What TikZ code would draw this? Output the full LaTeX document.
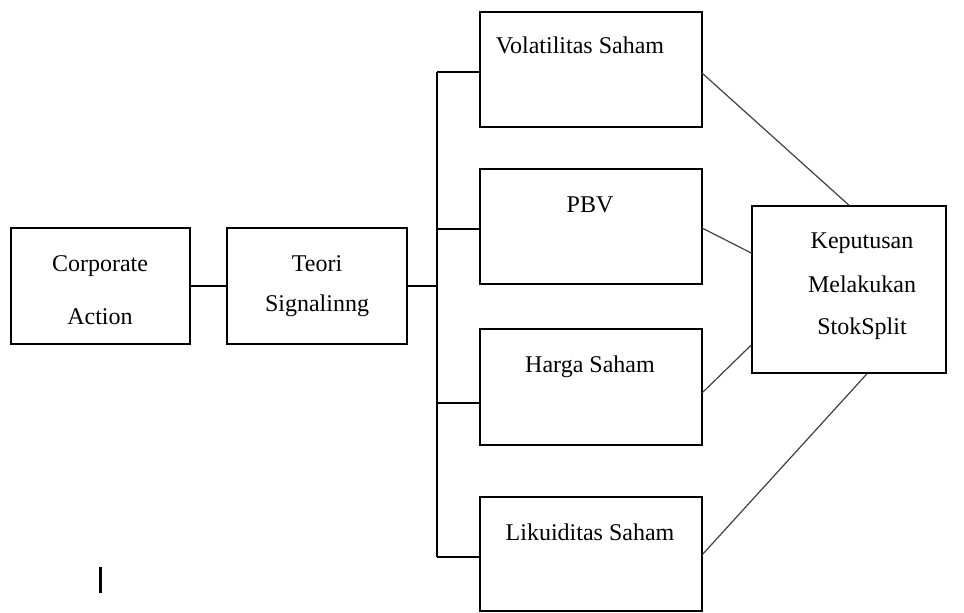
\documentclass[tikz,border=0pt]{standalone}
\usepackage{fontspec}
\setmainfont{Liberation Serif}
\usetikzlibrary{calc}
\begin{document}
\begin{tikzpicture}[x=1pt,y=-1pt,
  box/.style={draw=black,line width=1.5pt,inner sep=0pt,fill=none},
  lbl/.style={anchor=base,inner sep=0pt,font=\fontsize{24}{28}\selectfont},
  bus/.style={draw=black,line width=1.5pt},
  link/.style={draw=black!75,line width=1.2pt}]
\useasboundingbox (0,0) rectangle (964,613);
% boxes
\node[box,minimum width=179pt,minimum height=116pt] (ca) at (100.5,286) {};
\node[box,minimum width=180pt,minimum height=116pt] (ts) at (317,286) {};
\node[box,minimum width=222pt,minimum height=115pt] (vol) at (591,69.5) {};
\node[box,minimum width=222pt,minimum height=115pt] (pbv) at (591,226.5) {};
\node[box,minimum width=222pt,minimum height=116pt] (hs) at (591,387) {};
\node[box,minimum width=222pt,minimum height=114pt] (ls) at (591,554) {};
\node[box,minimum width=194pt,minimum height=167pt] (kep) at (849,289.5) {};
% texts
\node[lbl] (t1a) at (100,271) {Corporate};
\node[lbl] (t1b) at (100,324) {Action};
\node[lbl] (t2a) at (317,271) {Teori};
\node[lbl] (t2b) at (317,311) {Signalinng};
\node[lbl] (t3) at (580,53) {Volatilitas Saham};
\node[lbl] (t4) at (590,212) {PBV};
\node[lbl] (t5) at (590,372) {Harga Saham};
\node[lbl] (t6) at (590,540) {Likuiditas Saham};
\node[lbl] (t7a) at (862,248) {Keputusan};
\node[lbl] (t7b) at (862,292) {Melakukan};
\node[lbl] (t7c) at (862,334) {StokSplit};
% bus coordinates
\coordinate (bx) at (437,0);
\coordinate (vin) at (480,72);
\coordinate (pin) at (480,229);
\coordinate (hin) at (480,403);
\coordinate (lin) at (480,557);
% connectors left part
\draw[bus] (ca.east) -- (ts.west);
\draw[bus] (ts.east) -- (ts.east -| bx);
\draw[bus] (vin -| bx) -- (lin -| bx);
\draw[bus] (vin -| bx) -- (vin);
\draw[bus] (pin -| bx) -- (pin);
\draw[bus] (hin -| bx) -- (hin);
\draw[bus] (lin -| bx) -- (lin);
% connectors to decision box
\coordinate (vout) at (702,73);
\coordinate (pout) at (702,228);
\coordinate (hout) at (702,393);
\coordinate (lout) at (702,555);
\draw[link] (vout) -- (kep.north);
\draw[link] (pout) -- ($(kep.west)+(0,-36.5)$);
\draw[link] (hout) -- ($(kep.west)+(0,55.5)$);
\draw[link] (lout) -- ($(kep.south)+(18,0)$);
% small vertical mark
\draw[line width=3pt] (100,567) -- (100,593);
\end{tikzpicture}
\end{document}
